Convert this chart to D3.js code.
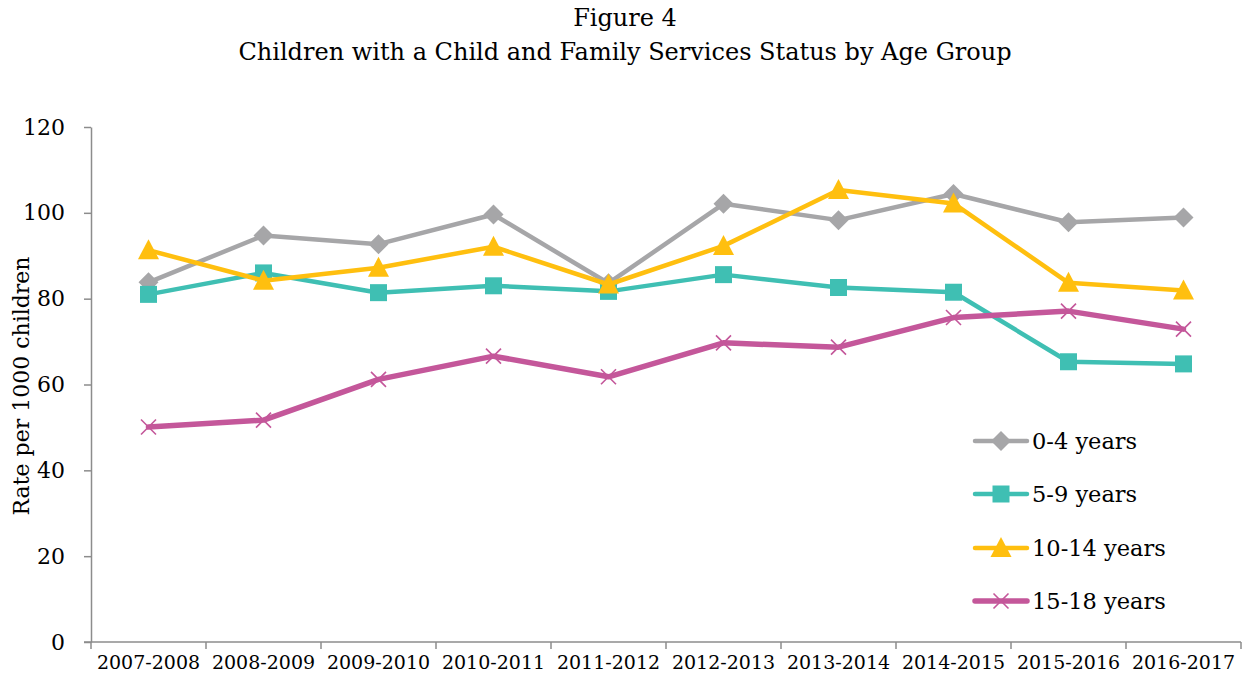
<!DOCTYPE html>
<html>
<head>
<meta charset="utf-8">
<script src="https://cdn.jsdelivr.net/npm/d3@7"></script>
<style>
  body { margin: 0; background: #fff; }
  svg text { font-family: "DejaVu Serif", "Liberation Serif", serif; fill: #000; }
</style>
</head>
<body>
<svg id="chart" width="1249" height="684"></svg>
<script>
// Fiscal years on the category axis
const years = ["2007-2008", "2008-2009", "2009-2010", "2010-2011", "2011-2012",
               "2012-2013", "2013-2014", "2014-2015", "2015-2016", "2016-2017"];

// Rate per 1000 children, by age group
const age0to4   = [83.8, 94.7, 92.7, 99.6, 83.6, 102.1, 98.3, 104.4, 97.8, 98.9];
const age5to9   = [81.0, 86.0, 81.4, 83.0, 81.7, 85.6, 82.6, 81.5, 65.3, 64.8];
const age10to14 = [91.3, 84.2, 87.2, 92.1, 83.3, 92.3, 105.3, 102.2, 83.7, 81.9];
const age15to18 = [50.1, 51.7, 61.2, 66.6, 61.8, 69.7, 68.7, 75.6, 77.1, 72.9];

const seriesNames = ["0-4 years", "5-9 years", "10-14 years", "15-18 years"];
const yTicks = [0, 20, 40, 60, 80, 100, 120];

// Drawing styles for each series
const styles = [
  { color: "#A6A6A8", marker: "diamond",  lineWidth: 4.5 },
  { color: "#3FBFB3", marker: "square",   lineWidth: 4.5 },
  { color: "#FFBF0F", marker: "triangle", lineWidth: 4.5 },
  { color: "#C4579A", marker: "cross",    lineWidth: 5.5 }
];
const seriesData = [age0to4, age5to9, age10to14, age15to18];

const svg = d3.select("#chart");
const margin = { left: 91, right: 1241, top: 127, bottom: 642 };
const axisColor = "#8C8C8C";

const x = d3.scaleBand().domain(years).range([margin.left, margin.right]);
const y = d3.scaleLinear().domain([0, 120]).range([margin.bottom, margin.top]);
const cx = d => x(d) + x.bandwidth() / 2;

// Title
svg.append("text").attr("x", 625).attr("y", 26).attr("text-anchor", "middle")
  .style("font-size", "24px").text("Figure 4");
svg.append("text").attr("x", 625).attr("y", 60).attr("text-anchor", "middle")
  .style("font-size", "24px").text("Children with a Child and Family Services Status by Age Group");

// Y axis
const yAxis = svg.append("g").attr("transform", `translate(${margin.left},0)`)
  .call(d3.axisLeft(y).tickValues(yTicks).tickSize(7).tickSizeOuter(0).tickPadding(19));
yAxis.select(".domain").attr("stroke", axisColor).attr("stroke-width", 1.5);
yAxis.selectAll(".tick line").attr("stroke", axisColor).attr("stroke-width", 1.5);
yAxis.selectAll(".tick text").style("font-size", "22px").style("font-family", "DejaVu Serif").attr("fill", "#000");

// Y axis title
svg.append("text")
  .attr("transform", `translate(29,386) rotate(-90)`)
  .attr("text-anchor", "middle").style("font-size", "22px").text("Rate per 1000 children");

// X axis: labels centred on categories, tick marks on category boundaries
const xAxis = svg.append("g").attr("transform", `translate(0,${margin.bottom})`)
  .call(d3.axisBottom(x).tickSize(0).tickPadding(14));
xAxis.select(".domain").remove();
xAxis.selectAll(".tick text").style("font-size", "19px").style("font-family", "DejaVu Serif").attr("fill", "#000");
svg.append("line").attr("x1", margin.left - 7).attr("x2", margin.right)
  .attr("y1", margin.bottom).attr("y2", margin.bottom)
  .attr("stroke", axisColor).attr("stroke-width", 1.5);
const boundaries = years.map(d => x(d)).concat([margin.right]);
svg.append("g").selectAll("line").data(boundaries).join("line")
  .attr("x1", d => d).attr("x2", d => d)
  .attr("y1", margin.bottom).attr("y2", margin.bottom + 7)
  .attr("stroke", axisColor).attr("stroke-width", 1.5);

// Marker shapes
function markerPath(type) {
  switch (type) {
    case "diamond":  return "M0,-10L10,0L0,10L-10,0Z";
    case "square":   return "M-8.5,-8.5H8.5V8.5H-8.5Z";
    case "triangle": return "M0,-11L10.5,9H-10.5Z";
    case "cross":    return "M-7.5,-7.5L7.5,7.5M-7.5,7.5L7.5,-7.5";
  }
}
function drawMarker(g, style, tx, ty) {
  const p = g.append("path").attr("d", markerPath(style.marker))
    .attr("transform", `translate(${tx},${ty})`);
  if (style.marker === "cross") {
    p.attr("fill", "none").attr("stroke", style.color).attr("stroke-width", 1.6);
  } else {
    p.attr("fill", style.color);
  }
}

const line = d3.line().x(d => cx(d.year)).y(d => y(d.value));

seriesData.forEach((vals, i) => {
  const st = styles[i];
  const pts = years.map((yr, j) => ({ year: yr, value: vals[j] }));
  const g = svg.append("g");
  g.append("path").datum(pts).attr("d", line)
    .attr("fill", "none").attr("stroke", st.color)
    .attr("stroke-width", st.lineWidth).attr("stroke-linejoin", "round").attr("stroke-linecap", "round");
  pts.forEach(p => drawMarker(g, st, cx(p.year), y(p.value)));
});

// Legend
const legendY = [441, 494, 548, 601];
seriesNames.forEach((name, i) => {
  const st = styles[i];
  const g = svg.append("g");
  g.append("line").attr("x1", 975).attr("x2", 1027)
    .attr("y1", legendY[i]).attr("y2", legendY[i])
    .attr("stroke", st.color).attr("stroke-width", st.lineWidth).attr("stroke-linecap", "round");
  drawMarker(g, st, 1001, legendY[i]);
  g.append("text").attr("x", 1032).attr("y", legendY[i] + 8)
    .style("font-size", "22.5px").text(name);
});
</script>
</body>
</html>
